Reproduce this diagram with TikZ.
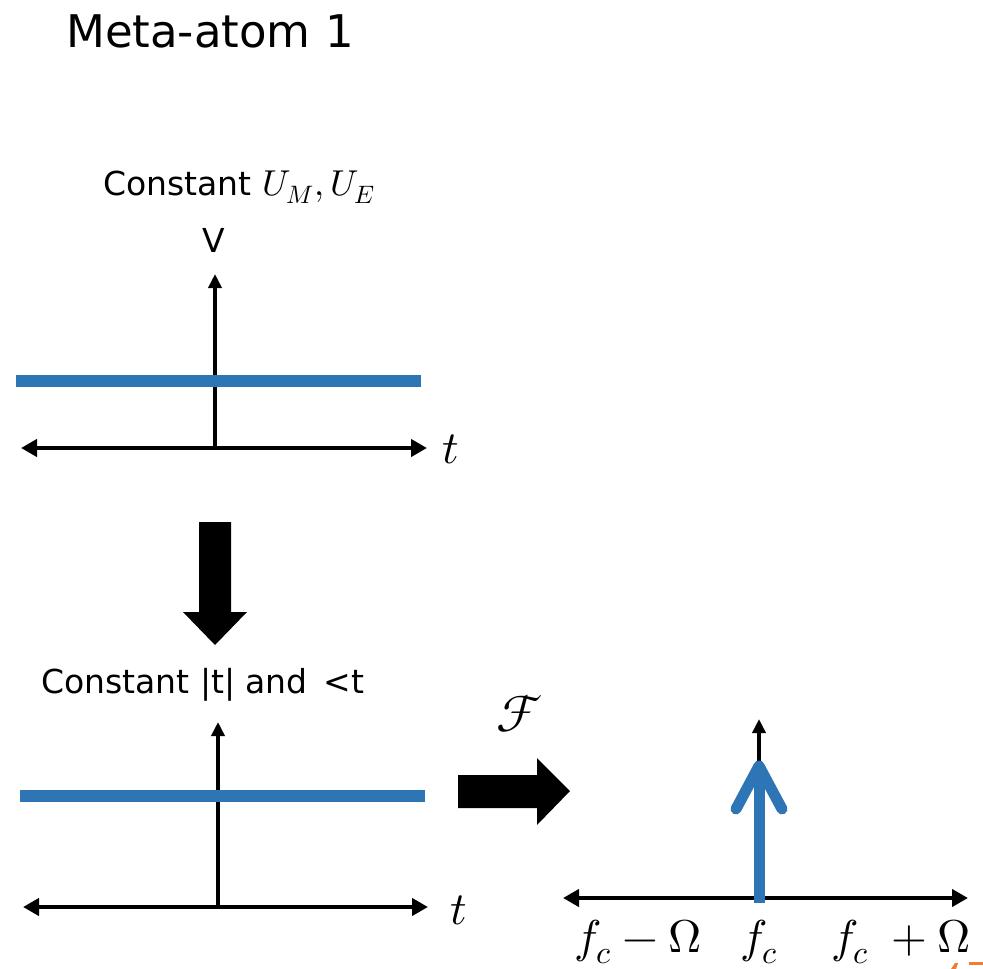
\documentclass[tikz,border=0pt]{standalone}
\usepackage{fontspec}
\usepackage{unicode-math}
\setmainfont{DejaVu Sans}
\setmathfont{Latin Modern Math}
\usetikzlibrary{arrows.meta}
\definecolor{sigblue}{RGB}{46,117,182}
\definecolor{slideorange}{RGB}{237,125,49}
\begin{document}
\begin{tikzpicture}[x=1pt,y=-1pt,
  haxis/.style={line width=4pt,{Triangle[length=16pt,width=17pt]}-{Triangle[length=16pt,width=17pt]}},
  vaxis/.style={line width=4pt,-{Triangle[length=14pt,width=13pt]}},
  sig/.style={sigblue,line width=12pt},
  bigarrow/.style={fill=black},
  lbl/.style={inner sep=0pt,anchor=base west},
  txt/.style={font=\fontsize{33}{36}\selectfont},
  mth/.style={font=\fontsize{46}{50}\selectfont}]
\useasboundingbox (0,0) rectangle (983,969);

% title
\node[lbl,font=\fontsize{45}{50}\selectfont] (title) at (66,47) {Meta-atom 1};

% ---- top graph ----
\node[lbl,txt] (lab1) at (103,195) {Constant {\fontsize{36}{40}\selectfont$U_M, U_E$}};
\node[inner sep=0pt,anchor=base,txt] (vlab) at (214,252) {V};
\coordinate (o1) at (215,448);
\coordinate (o1top) at (215,274);
\coordinate (h1l) at (21,448);
\coordinate (h1r) at (427,448);
\draw[vaxis] (o1) -- (o1top);
\draw[haxis] (h1l) -- (h1r);
\coordinate (s1l) at (16,381);
\coordinate (s1r) at (421,381);
\draw[sig] (s1l) -- (s1r);
\node[lbl,mth] (t1) at (442,463) {$t$};

% down arrow
\fill[bigarrow] (199,522) -- (231,522) -- (231,612) -- (247,612) -- (215,645) -- (183,612) -- (199,612) -- cycle;

% ---- middle graph ----
\node[lbl,txt] (lab2) at (41,693) {Constant |t| and \,<t};
\coordinate (o2) at (218,907);
\coordinate (o2top) at (218,722);
\coordinate (h2l) at (23,907);
\coordinate (h2r) at (428,907);
\draw[vaxis] (o2) -- (o2top);
\draw[haxis] (h2l) -- (h2r);
\coordinate (s2l) at (20,796);
\coordinate (s2r) at (425,796);
\draw[sig] (s2l) -- (s2r);
\node[lbl,mth] (t2) at (450,924) {$t$};

% Fourier arrow
\node[inner sep=0pt,font=\fontsize{52}{56}\selectfont] (F) at (520,714) {$\mathcal{F}$};
\fill[bigarrow] (458,775) -- (537,775) -- (537,758) -- (570,791) -- (537,825) -- (537,808) -- (458,808) -- cycle;

% ---- spectrum ----
\coordinate (o3) at (759,898);
\coordinate (o3top) at (759,719);
\coordinate (h3l) at (563,898);
\coordinate (h3r) at (968,898);
\draw[vaxis] (o3) -- (o3top);
\draw[haxis] (h3l) -- (h3r);
\coordinate (d0) at (759,903);
\coordinate (dtip) at (759,766);
\coordinate (dl) at (736,809);
\coordinate (dr) at (782,809);
\draw[sigblue,line width=11pt] (d0) -- (dtip);
\draw[sigblue,line width=11pt,line cap=round,line join=round] (dl) -- (dtip) -- (dr);
\node[lbl,mth] (fm) at (574,952) {$f_c - \Omega$};
\node[lbl,mth] (f0) at (740,952) {$f_c$};
\node[lbl,mth] (fp) at (831,952) {$f_c\;+\Omega$};

% slide number fragment
\fill[slideorange] (951,969) -- (955,963) -- (958,963) -- (956,969) -- cycle;
\fill[slideorange] (969,962) rectangle (983,965);
\end{tikzpicture}
\end{document}
